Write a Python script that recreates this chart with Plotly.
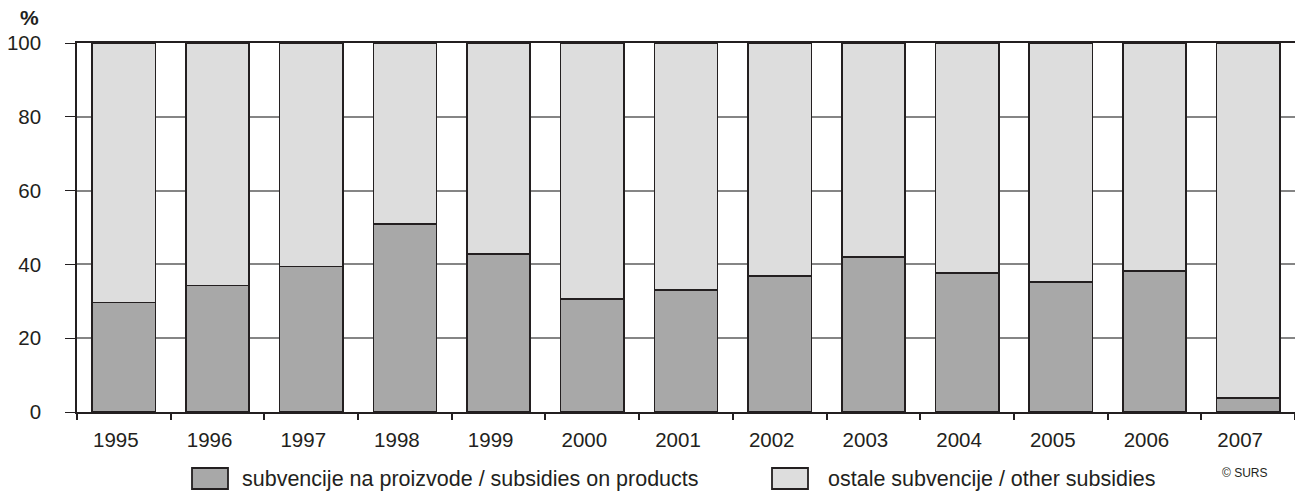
import plotly.graph_objects as go

years = ["1995", "1996", "1997", "1998", "1999", "2000", "2001",
         "2002", "2003", "2004", "2005", "2006", "2007"]
products = [29.7, 34.3, 39.4, 50.9, 42.9, 30.6, 33.0, 36.9, 42.0, 37.7, 35.2, 38.2, 3.8]
other = [round(100 - v, 1) for v in products]
name_products = "subvencije na proizvode / subsidies on products"
name_other = "ostale subvencije / other subsidies"
y_ticks = [0, 20, 40, 60, 80, 100]

W, H = 1295, 496
L, R, T, B = 77, 0, 43, 84
PW, PH = W - L - R, H - T - B

def px(x):
    return (x - L) / PW

def py(y):
    return (H - B - y) / PH

DARK = "#a8a8a8"
LIGHT = "#dddddd"
EDGE = "#231f20"
FONT = "Liberation Sans, Arial, sans-serif"

fig = go.Figure()
fig.add_trace(go.Bar(x=years, y=products, name=name_products,
                     marker=dict(color=DARK, line=dict(color=EDGE, width=1.6))))
fig.add_trace(go.Bar(x=years, y=other, name=name_other,
                     marker=dict(color=LIGHT, line=dict(color=EDGE, width=1.6))))

fig.update_layout(
    barmode="stack",
    bargap=0.325,
    width=W, height=H,
    margin=dict(l=L, r=R, t=T, b=B, pad=0, autoexpand=False),
    paper_bgcolor="white",
    plot_bgcolor="white",
    showlegend=False,
    font=dict(family=FONT, size=20, color="#231f20"),
)
fig.update_xaxes(
    type="category", automargin=False,
    showline=True, linecolor=EDGE, linewidth=2, mirror=True,
    ticks="outside", tickson="boundaries", ticklen=6, tickcolor=EDGE, tickwidth=1.5,
    showgrid=False,
    tickfont=dict(family=FONT, size=20.5, color="#231f20"),
    ticklabelshift=-8, ticklabelstandoff=8,
)
fig.update_yaxes(
    range=[0, 100], automargin=False,
    tickvals=y_ticks,
    showline=True, linecolor=EDGE, linewidth=1.5,
    ticks="outside", ticklen=10, tickcolor=EDGE, tickwidth=1.2,
    showgrid=True, gridcolor="#858585", gridwidth=1.5,
    zeroline=False,
    tickfont=dict(family=FONT, size=20.5, color="#231f20"),
    ticklabelstandoff=20,
)

# y-axis unit
fig.add_annotation(text="<b>%</b>", xref="paper", yref="paper",
                   x=px(29), y=py(17), xanchor="center", yanchor="middle",
                   showarrow=False,
                   font=dict(family=FONT, size=21, color="#231f20"))

# legend (drawn boxes + labels)
legend_items = [(192, 228, 240, DARK, name_products),
                (772, 808, 826, LIGHT, name_other)]
for x0, x1, tx, col, label in legend_items:
    fig.add_shape(type="rect", xref="paper", yref="paper",
                  x0=px(x0), x1=px(x1), y0=py(489), y1=py(468),
                  fillcolor=col, line=dict(color=EDGE, width=1.8))
    fig.add_annotation(text=label, xref="paper", yref="paper",
                       x=px(tx), y=py(479), xanchor="left", yanchor="middle",
                       showarrow=False,
                       font=dict(family=FONT, size=21.5, color="#231f20"))

fig.add_annotation(text="© SURS", xref="paper", yref="paper",
                   x=px(1270), y=py(473), xanchor="right", yanchor="middle",
                   showarrow=False,
                   font=dict(family=FONT, size=12, color="#231f20"))

fig.write_html("out.html", config={"displayModeBar": False},
               post_script="document.body.style.margin='0';document.body.style.overflow='hidden';")
